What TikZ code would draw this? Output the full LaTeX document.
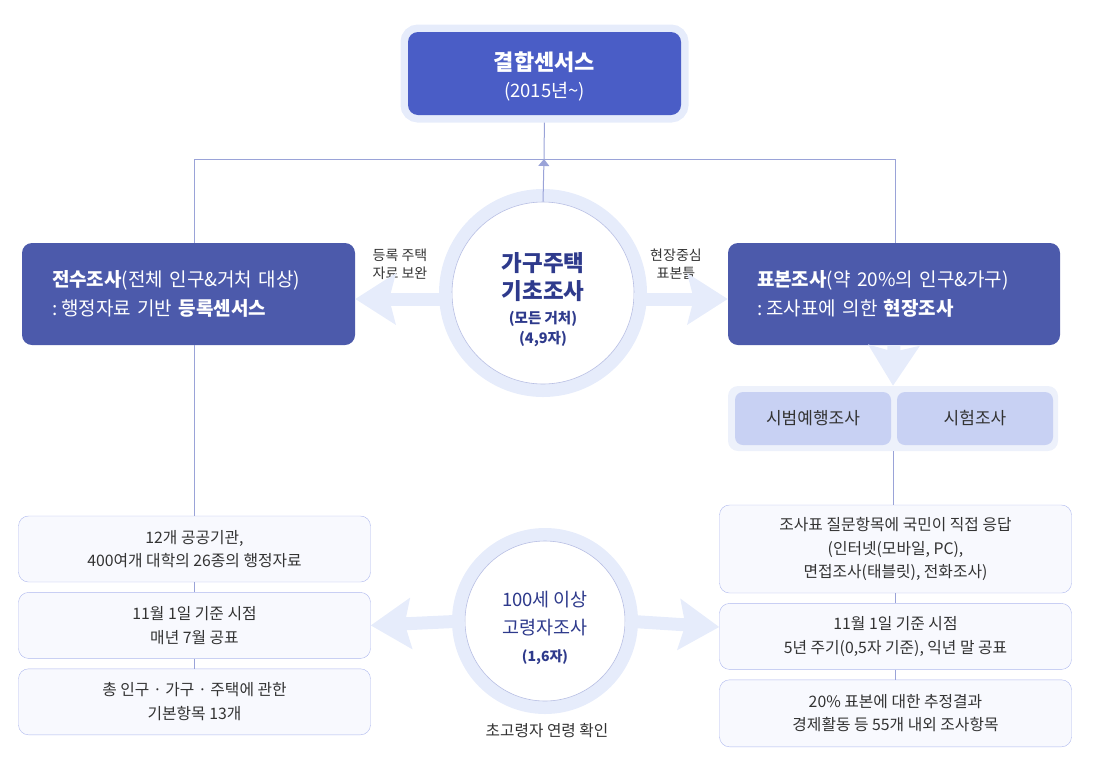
\documentclass[tikz,border=0pt]{standalone}
\usepackage{fontspec}
\setmainfont{Noto Sans CJK KR}
\usetikzlibrary{shapes, arrows.meta, positioning}
\definecolor{topblue}{HTML}{4A5DC6}
\definecolor{mainblue}{HTML}{4C5AAB}
\definecolor{halo}{HTML}{E6ECFB}
\definecolor{halolight}{HTML}{EDF1FB}
\definecolor{pale}{HTML}{C8D1F3}
\definecolor{linkc}{HTML}{9AA3D8}
\definecolor{navy}{HTML}{2E3A8C}
\definecolor{cellfill}{HTML}{F8F9FE}
\definecolor{cellline}{HTML}{AEB8EE}
\definecolor{txt}{HTML}{333333}
\tikzstyle{block} = [rectangle, rounded corners=10pt, fill=mainblue, text=white,
    align=left, inner sep=0pt, minimum height=102pt, font=\fontsize{19}{29}\selectfont]
\tikzstyle{cell} = [rectangle, rounded corners=10pt, draw=cellline, fill=cellfill, text=txt,
    align=center, minimum width=352pt, font=\fontsize{15.8}{23.5}\selectfont]
\tikzstyle{survey} = [circle, draw=linkc!70, line width=0.6pt, fill=white,
    preaction={draw=halo, line width=26pt}, inner sep=0pt]
\tikzstyle{surveytext} = [align=center, text=navy, inner sep=0pt, yshift=-7pt]
\tikzstyle{trial} = [rectangle, rounded corners=8pt, fill=pale, text=txt,
    minimum width=156pt, minimum height=53pt, font=\fontsize{17}{20}\selectfont]
\tikzstyle{note} = [text=txt, align=center, font=\fontsize{14}{18}\selectfont]
\tikzstyle{link} = [draw=linkc, line width=1pt]
\tikzstyle{fat} = [draw=halo, line width=13pt, -{Stealth[length=40pt, width=50pt, inset=6pt]}]

\begin{document}
\begin{tikzpicture}[x=1pt, y=-1pt, >=latex]
    \useasboundingbox (0,0) rectangle (1095,764);
    \node [rectangle, rounded corners=10pt, fill=topblue, minimum width=273pt,
        minimum height=83pt, preaction={draw=halo, line width=15pt}] (comb) at (544.5,73.5) {};
    \node [text=white, align=center, font=\fontsize{18.5}{27}\selectfont, yshift=-3pt] (combtxt)
        at (comb) {{\fontsize{22}{27}\selectfont\bfseries 결합센서스}\\(2015년\textasciitilde)};
    \coordinate (jn) at (544,159);

    \node [survey, minimum size=182pt] (basic) at (543,293) {};
    \node [surveytext, font=\fontsize{14.5}{28}\selectfont] (basictxt) at (basic)
        {{\fontsize{22.5}{28}\selectfont\bfseries 가구주택}\\{\fontsize{22.5}{28}\selectfont\bfseries 기초조사}\\[-4pt]
         \bfseries (모든 거처)\\[-8pt]\bfseries (4,9자)};
    \node [block, minimum width=333pt, text width=273pt] (regL) at (188.5,294)
        {\textbf{전수조사}(전체 인구\&거처 대상)\\:\hspace{4pt}행정자료 기반 \textbf{등록센서스}};
    \node [block, minimum width=332pt, text width=274pt] (regR) at (894,294)
        {\textbf{표본조사}(약 20\%의 인구\&가구)\\:\hspace{4pt}조사표에 의한 \textbf{현장조사}};
    \node [note] (lblL) at (400,264) {등록 주택\\자료 보완};
    \node [note] (lblR) at (676,264) {현장중심\\표본틀};

    \node [rectangle, rounded corners=10pt, fill=halolight, minimum width=330pt,
        minimum height=65pt] (grp) at (893,418.5) {};
    \node [trial] (pilot) at (813,418.5) {시범예행조사};
    \node [trial] (test) at (975,418.5) {시험조사};

    \node [cell, minimum height=66pt] (lb1) at (194.5,549) {12개 공공기관,\\400여개 대학의 26종의 행정자료};
    \node [cell, minimum height=66pt, below=10pt of lb1] (lb2) {11월 1일 기준 시점\\매년 7월 공표};
    \node [cell, minimum height=66pt, below=10pt of lb2] (lb3) {총 인구 · 가구 · 주택에 관한\\기본항목 13개};
    \node [cell, minimum height=88pt] (rb1) at (895.5,549)
        {조사표 질문항목에 국민이 직접 응답\\(인터넷(모바일, PC),\\면접조사(태블릿), 전화조사)};
    \node [cell, minimum height=66pt, below=10pt of rb1] (rb2) {11월 1일 기준 시점\\5년 주기(0,5자 기준), 익년 말 공표};
    \node [cell, minimum height=67pt, below=10pt of rb2] (rb3) {20\% 표본에 대한 추정결과\\경제활동 등 55개 내외 조사항목};

    \node [survey, minimum size=160pt] (old) at (545,621) {};
    \node [surveytext, font=\fontsize{18.5}{28}\selectfont] (oldtxt) at (old)
        {100세 이상\\고령자조사\\[-1pt]{\fontsize{14}{20}\selectfont\bfseries (1,6자)}};
    \node [text=txt, font=\fontsize{15.7}{20}\selectfont] (oldnote) at (547,731) {초고령자 연령 확인};

    \draw [link, shorten <=7.5pt] (comb.south) -- (jn);
    \draw [link, -{Triangle[length=7pt, width=11pt]}] (basic.north) -- (jn);
    \draw [link] (jn) -| (lb1.north |- regL.north);
    \draw [link] (jn) -| (rb1.north |- regR.north);
    \draw [link] (lb1.north |- regL.south) -- (lb1.north);
    \draw [link] (grp.south) -- (grp.south |- rb1.north);
    \draw [link] (lb1) -- (lb2);
    \draw [link] (lb2) -- (lb3);
    \draw [link] (rb1) -- (rb2);
    \draw [link] (rb2) -- (rb3);

    \draw [fat] ([yshift=-6pt]basic.west) -- ([yshift=-5pt]regL.east);
    \draw [fat] ([yshift=-6pt]basic.east) -- ([yshift=-5pt]regR.west);
    \draw [fat] (regR.south) -- (grp.north);
    \draw [fat] (old.west) -- (lb2.east);
    \draw [fat] (old.east) -- ([yshift=-6pt]old.east -| rb2.west);
\end{tikzpicture}
\end{document}
